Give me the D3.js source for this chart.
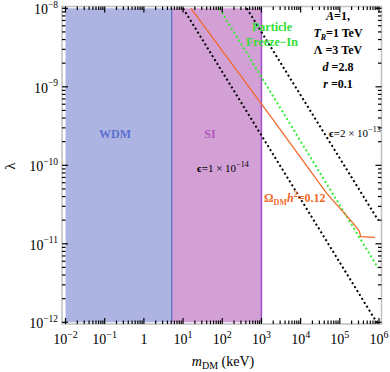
<!DOCTYPE html>
<html><head><meta charset="utf-8">
<script src="https://cdn.jsdelivr.net/npm/d3@7"></script>
<style>body{margin:0;background:#fff}svg{display:block}text{font-family:"Liberation Serif","DejaVu Serif",serif}</style>
</head><body><svg id="c" width="390" height="372"></svg>
<script>
// data (log10 values)
const xTickExps = [-2,-1,0,1,2,3,4,5,6];
const yTickExps = [-8,-9,-10,-11,-12];
const wdmRange = [-2, 0.71];      // log10 m (keV)
const siRange = [0.71, 3.0];
const eps1Line = [[1.0,-8],[5.94,-12]];
const eps2Line = [[2.625,-8],[5.98,-10.70]];
const freezeInLine = [[1.926,-8],[5.98,-11.31]];
const relicLine = [[1.204,-8],[3.30,-9.42],[4.666,-10.357],[5.344,-10.739],[5.497,-10.837],[5.533,-10.910],[5.898,-10.917]];
const paramLines = ["A=1,","T_R=1 TeV","Λ =3 TeV","d =2.8","r =0.1"];

const svg = d3.select("#c");
const x = d3.scaleLinear().domain([-2,6]).range([65.5,379]);
const y = d3.scaleLinear().domain([-8,-12]).range([8.3,322.3]);
const L=62, R=381.5, T=6.5, B=324;

// regions
svg.append("rect").attr("x",x(wdmRange[0])).attr("y",y(-8)).attr("width",x(wdmRange[1])-x(wdmRange[0])).attr("height",y(-12)-y(-8)).attr("fill","#adb4e1");
svg.append("rect").attr("x",x(siRange[0])).attr("y",y(-8)).attr("width",x(siRange[1])-x(siRange[0])).attr("height",y(-12)-y(-8)).attr("fill","#d3a0d6");
svg.append("line").attr("x1",x(wdmRange[1])).attr("x2",x(wdmRange[1])).attr("y1",y(-8)).attr("y2",y(-12)).attr("stroke","#5a6cc0").attr("stroke-width",1.2);
svg.append("line").attr("x1",x(siRange[1])).attr("x2",x(siRange[1])).attr("y1",y(-8)).attr("y2",y(-12)).attr("stroke","#a050c8").attr("stroke-width",1.5);

const line = d3.line().x(d=>x(d[0])).y(d=>y(d[1]));
svg.append("path").attr("d",line(eps1Line)).attr("fill","none").attr("stroke","#000").attr("stroke-width",2).attr("stroke-dasharray","2,2.6");
svg.append("path").attr("d",line(eps2Line)).attr("fill","none").attr("stroke","#000").attr("stroke-width",2).attr("stroke-dasharray","2,2.6");
svg.append("path").attr("d",line(freezeInLine)).attr("fill","none").attr("stroke","#33ee33").attr("stroke-width",2).attr("stroke-dasharray","2,2.6");
svg.append("path").attr("d",line(relicLine)).attr("fill","none").attr("stroke","#f06a2a").attr("stroke-width",1.3);

// frame
svg.append("rect").attr("x",L).attr("y",T).attr("width",R-L).attr("height",B-T).attr("fill","none").attr("stroke","#c4c4c4").attr("stroke-width",1.6);

// ticks
const g = svg.append("g").attr("stroke","#000");
for(let e=-2;e<=6;e++){
  for(let k=1;k<=9;k++){
    const v = e+Math.log10(k);
    if(v>6.0001) continue;
    const len = k===1?6:3.5;
    g.append("line").attr("x1",x(v)).attr("x2",x(v)).attr("y1",B).attr("y2",B-len).attr("stroke-width",1.2);
    g.append("line").attr("x1",x(v)).attr("x2",x(v)).attr("y1",T).attr("y2",T+len).attr("stroke-width",1.2);
  }
}
for(let e=-12;e<=-8;e++){
  for(let k=1;k<=9;k++){
    const v = e+Math.log10(k);
    if(v>-7.9999) continue;
    const len = k===1?6:3.5;
    g.append("line").attr("y1",y(v)).attr("y2",y(v)).attr("x1",L).attr("x2",L+len).attr("stroke-width",1.2);
    g.append("line").attr("y1",y(v)).attr("y2",y(v)).attr("x1",R).attr("x2",R-len).attr("stroke-width",1.2);
  }
}

// tick labels
xTickExps.forEach(e=>{
  const t = svg.append("text").attr("x",x(e)).attr("y",344).attr("text-anchor","middle").attr("font-size",14).attr("fill","#000");
  if(e===0) t.text("1"); else {
    t.append("tspan").text("10");
    t.append("tspan").attr("dy",-6).attr("font-size",10).text(e<0?"\u2212"+(-e):String(e));
  }
});
yTickExps.forEach(e=>{
  const t = svg.append("text").attr("x",58).attr("y",y(e)+6).attr("text-anchor","end").attr("font-size",14).attr("fill","#000");
  t.append("tspan").text("10");
  t.append("tspan").attr("dy",-6.5).attr("font-size",9.5).text("\u2212"+(-e));
});

// axis titles
const xt = svg.append("text").attr("x",223).attr("y",366).attr("text-anchor","middle").attr("font-size",14);
xt.append("tspan").attr("font-style","italic").text("m");
xt.append("tspan").attr("font-size",10).attr("dy",3).text("DM");
xt.append("tspan").attr("dy",-3).text(" (keV)");
svg.append("text").attr("transform","translate(15,166) rotate(-90)").attr("text-anchor","middle").attr("font-size",15).text("λ");

// region labels
svg.append("text").attr("x",115).attr("y",138).attr("text-anchor","middle").attr("font-size",12).attr("font-weight","bold").attr("fill","#5a70d0").text("WDM");
svg.append("text").attr("x",210).attr("y",138).attr("text-anchor","middle").attr("font-size",12).attr("font-weight","bold").attr("fill","#b055c0").text("SI");

// epsilon labels
function epsLabel(xp, yp, mant, ex){
  const t = svg.append("text").attr("x",xp).attr("y",yp).attr("font-size",11).attr("fill","#000");
  t.append("tspan").attr("font-weight","bold").text("\u03f5=");
  t.append("tspan").text(mant+" \u00d7 10");
  t.append("tspan").attr("dy",-5).attr("font-size",8).text("\u2212"+ex);
}
epsLabel(197,172,"1",14);
epsLabel(329,137,"2",13);

// freeze-in label
svg.append("text").attr("x",272).attr("y",31).attr("text-anchor","middle").attr("font-size",12).attr("font-weight","bold").attr("fill","#33dd33").text("Particle");
svg.append("text").attr("x",272).attr("y",46).attr("text-anchor","middle").attr("font-size",12).attr("font-weight","bold").attr("fill","#33dd33").text("Freeze\u2212In");

// relic label
const om = svg.append("text").attr("x",264).attr("y",202).attr("font-size",12).attr("font-weight","bold").attr("fill","#f06a2a");
om.append("tspan").text("Ω");
om.append("tspan").attr("font-size",8).attr("dy",3).text("DM");
om.append("tspan").attr("dy",-3).attr("font-style","italic").text("h");
om.append("tspan").attr("dy",-5).attr("font-size",8).text("2");
om.append("tspan").attr("dy",5).text("=0.12");

// parameter block
const py = [20,37,54,71,88];
paramLines.forEach((s,i)=>{
  const t = svg.append("text").attr("x",338).attr("y",py[i]).attr("text-anchor","middle").attr("font-size",12).attr("font-weight","bold");
  if(i===0){ t.append("tspan").attr("font-style","italic").text("A"); t.append("tspan").text("=1,"); }
  else if(i===1){ t.append("tspan").attr("font-style","italic").text("T"); t.append("tspan").attr("font-style","italic").attr("font-size",8).attr("dy",3).text("R"); t.append("tspan").attr("dy",-3).text("=1 TeV"); }
  else if(i===2){ t.text(s); }
  else if(i===3){ t.append("tspan").attr("font-style","italic").text("d"); t.append("tspan").text(" =2.8"); }
  else { t.append("tspan").attr("font-style","italic").text("r"); t.append("tspan").text(" =0.1"); }
});
</script></body></html>
